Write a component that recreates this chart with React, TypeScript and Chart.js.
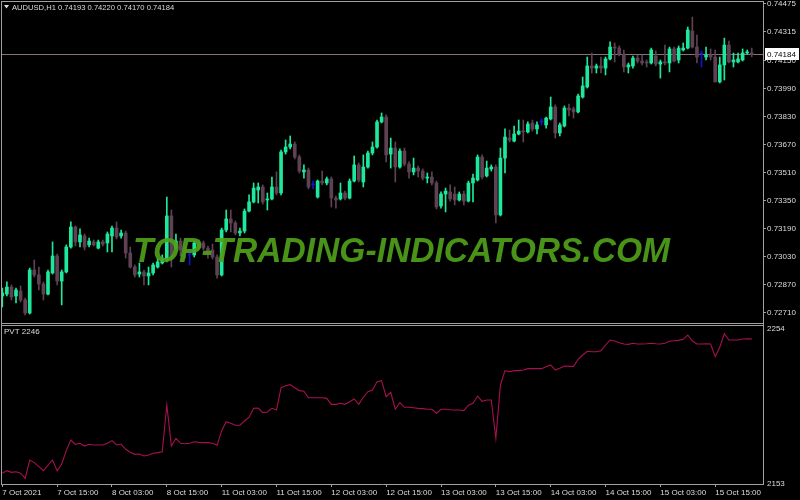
import React, { useEffect, useRef } from "react";
import { Chart, registerables } from "chart.js";
Chart.register(...registerables);

const SYMBOL = "AUDUSD,H1";
const INDICATOR = "PVT";
const WATERMARK = "TOP-TRADING-INDICATORS.COM";
const xTickLabels = ["7 Oct 2021", "7 Oct 15:00", "8 Oct 03:00", "8 Oct 15:00", "11 Oct 03:00", "11 Oct 15:00", "12 Oct 03:00", "12 Oct 15:00", "13 Oct 03:00", "13 Oct 15:00", "14 Oct 03:00", "14 Oct 15:00", "15 Oct 03:00", "15 Oct 15:00"];
const barsPerLabel = 12;
const priceTicks = [0.74475, 0.74315, 0.7415, 0.7399, 0.7383, 0.7367, 0.7351, 0.7335, 0.7319, 0.7303, 0.7287, 0.7271];
const pvtTicks = [2153, 2254];
const bidPrice = 0.74184;

const open = [
  0.72807, 0.72818, 0.72858, 0.72807, 0.72835, 0.72784, 0.72710, 0.72955, 0.72927, 0.72875,
  0.72818, 0.72938, 0.73035, 0.72892, 0.72944, 0.73086, 0.73200, 0.73115, 0.73149, 0.73098,
  0.73115, 0.73080, 0.73115, 0.73109, 0.73149, 0.73194, 0.73149, 0.73166, 0.73052, 0.72972,
  0.72932, 0.72944, 0.72921, 0.72938, 0.72972, 0.72995, 0.73012, 0.73263, 0.73080, 0.73120,
  0.73069, 0.73041, 0.73041, 0.73109, 0.73109, 0.73080, 0.73069, 0.73029, 0.72927, 0.73183,
  0.73246, 0.73223, 0.73166, 0.73177, 0.73291, 0.73343, 0.73411, 0.73428, 0.73354, 0.73360,
  0.73428, 0.73394, 0.73628, 0.73656, 0.73673, 0.73599, 0.73514, 0.73525, 0.73440, 0.73371,
  0.73462, 0.73451, 0.73474, 0.73365, 0.73360, 0.73394, 0.73365, 0.73462, 0.73554, 0.73457,
  0.73542, 0.73622, 0.73656, 0.73799, 0.73827, 0.73616, 0.73650, 0.73542, 0.73633, 0.73559,
  0.73514, 0.73536, 0.73519, 0.73479, 0.73485, 0.73451, 0.73320, 0.73388, 0.73400, 0.73388,
  0.73354, 0.73388, 0.73348, 0.73451, 0.73468, 0.73599, 0.73491, 0.73531, 0.73542, 0.73269,
  0.73593, 0.73707, 0.73690, 0.73730, 0.73747, 0.73742, 0.73793, 0.73759, 0.73799, 0.73782,
  0.73816, 0.73884, 0.73736, 0.73776, 0.73878, 0.73873, 0.73856, 0.73941, 0.73998, 0.74118,
  0.74106, 0.74118, 0.74106, 0.74158, 0.74226, 0.74220, 0.74186, 0.74112, 0.74118, 0.74163,
  0.74146, 0.74141, 0.74135, 0.74175, 0.74129, 0.74141, 0.74135, 0.74215, 0.74152, 0.74209,
  0.74220, 0.74317, 0.74226, 0.74186, 0.74169, 0.74180, 0.74169, 0.74027, 0.74124, 0.74237,
  0.74141, 0.74141, 0.74152, 0.74192, 0.74193,
];
const high = [
  0.72852, 0.72887, 0.72870, 0.72852, 0.72864, 0.72795, 0.72966, 0.73012, 0.72972, 0.72887,
  0.72955, 0.73115, 0.73046, 0.72955, 0.73098, 0.73229, 0.73206, 0.73189, 0.73160, 0.73137,
  0.73126, 0.73126, 0.73126, 0.73172, 0.73206, 0.73229, 0.73183, 0.73177, 0.73086, 0.72984,
  0.72995, 0.72955, 0.72972, 0.72995, 0.73023, 0.73041, 0.73371, 0.73297, 0.73160, 0.73137,
  0.73092, 0.73069, 0.73120, 0.73126, 0.73120, 0.73092, 0.73103, 0.73041, 0.73194, 0.73297,
  0.73297, 0.73234, 0.73194, 0.73303, 0.73383, 0.73451, 0.73451, 0.73440, 0.73394, 0.73485,
  0.73514, 0.73639, 0.73696, 0.73719, 0.73685, 0.73611, 0.73554, 0.73536, 0.73462, 0.73468,
  0.73519, 0.73485, 0.73485, 0.73377, 0.73451, 0.73405, 0.73474, 0.73605, 0.73565, 0.73611,
  0.73633, 0.73685, 0.73810, 0.73850, 0.73839, 0.73707, 0.73685, 0.73645, 0.73650, 0.73571,
  0.73593, 0.73548, 0.73531, 0.73508, 0.73514, 0.73462, 0.73400, 0.73422, 0.73440, 0.73428,
  0.73400, 0.73405, 0.73462, 0.73502, 0.73611, 0.73611, 0.73576, 0.73554, 0.73554, 0.73650,
  0.73759, 0.73753, 0.73776, 0.73810, 0.73810, 0.73799, 0.73810, 0.73799, 0.73816, 0.73827,
  0.73941, 0.73896, 0.73793, 0.73890, 0.73901, 0.73884, 0.73958, 0.74055, 0.74169, 0.74192,
  0.74129, 0.74169, 0.74169, 0.74255, 0.74249, 0.74232, 0.74209, 0.74135, 0.74175, 0.74180,
  0.74180, 0.74152, 0.74220, 0.74203, 0.74152, 0.74237, 0.74226, 0.74226, 0.74232, 0.74249,
  0.74340, 0.74397, 0.74294, 0.74203, 0.74226, 0.74215, 0.74209, 0.74169, 0.74277, 0.74260,
  0.74192, 0.74192, 0.74215, 0.74209, 0.74220,
];
const low = [
  0.72744, 0.72807, 0.72784, 0.72767, 0.72773, 0.72699, 0.72704, 0.72915, 0.72841, 0.72784,
  0.72813, 0.72932, 0.72870, 0.72756, 0.72938, 0.73080, 0.73092, 0.73086, 0.73069, 0.73086,
  0.73092, 0.73075, 0.73092, 0.73058, 0.73058, 0.73132, 0.73137, 0.73023, 0.72966, 0.72915,
  0.72915, 0.72870, 0.72870, 0.72927, 0.72966, 0.72989, 0.73001, 0.72972, 0.73069, 0.73035,
  0.73023, 0.72984, 0.73029, 0.73075, 0.73069, 0.73023, 0.73018, 0.72909, 0.72921, 0.73172,
  0.73172, 0.73155, 0.73149, 0.73166, 0.73286, 0.73337, 0.73337, 0.73331, 0.73297, 0.73354,
  0.73383, 0.73383, 0.73616, 0.73645, 0.73588, 0.73508, 0.73479, 0.73417, 0.73417, 0.73365,
  0.73440, 0.73440, 0.73314, 0.73308, 0.73354, 0.73354, 0.73360, 0.73457, 0.73457, 0.73428,
  0.73536, 0.73611, 0.73650, 0.73793, 0.73571, 0.73536, 0.73457, 0.73536, 0.73548, 0.73479,
  0.73497, 0.73485, 0.73468, 0.73451, 0.73440, 0.73303, 0.73308, 0.73286, 0.73348, 0.73326,
  0.73348, 0.73326, 0.73343, 0.73343, 0.73462, 0.73474, 0.73485, 0.73519, 0.73223, 0.73263,
  0.73508, 0.73685, 0.73685, 0.73725, 0.73685, 0.73736, 0.73747, 0.73730, 0.73782, 0.73764,
  0.73810, 0.73707, 0.73719, 0.73770, 0.73833, 0.73821, 0.73850, 0.73935, 0.73992, 0.74078,
  0.74078, 0.74078, 0.74067, 0.74152, 0.74141, 0.74175, 0.74084, 0.74078, 0.74106, 0.74135,
  0.74124, 0.74112, 0.74129, 0.74118, 0.74049, 0.74124, 0.74084, 0.74141, 0.74135, 0.74203,
  0.74215, 0.74220, 0.74135, 0.74112, 0.74152, 0.74152, 0.74027, 0.74021, 0.74038, 0.74135,
  0.74112, 0.74135, 0.74146, 0.74186, 0.74170,
];
const close = [
  0.72824, 0.72858, 0.72801, 0.72841, 0.72784, 0.72710, 0.72955, 0.72927, 0.72875, 0.72818,
  0.72944, 0.73035, 0.72892, 0.72944, 0.73086, 0.73200, 0.73115, 0.73155, 0.73086, 0.73120,
  0.73098, 0.73115, 0.73103, 0.73160, 0.73194, 0.73143, 0.73166, 0.73052, 0.72972, 0.72927,
  0.72944, 0.72921, 0.72938, 0.72984, 0.73001, 0.73023, 0.73263, 0.73029, 0.73120, 0.73069,
  0.73052, 0.73041, 0.73109, 0.73086, 0.73080, 0.73052, 0.73029, 0.72927, 0.73183, 0.73246,
  0.73223, 0.73166, 0.73177, 0.73291, 0.73343, 0.73422, 0.73428, 0.73343, 0.73360, 0.73428,
  0.73394, 0.73628, 0.73656, 0.73673, 0.73599, 0.73519, 0.73525, 0.73428, 0.73440, 0.73462,
  0.73451, 0.73474, 0.73365, 0.73354, 0.73394, 0.73365, 0.73462, 0.73554, 0.73468, 0.73542,
  0.73622, 0.73656, 0.73799, 0.73827, 0.73611, 0.73650, 0.73542, 0.73633, 0.73559, 0.73514,
  0.73536, 0.73519, 0.73479, 0.73485, 0.73451, 0.73314, 0.73388, 0.73405, 0.73360, 0.73354,
  0.73388, 0.73348, 0.73451, 0.73479, 0.73599, 0.73485, 0.73536, 0.73542, 0.73269, 0.73593,
  0.73713, 0.73696, 0.73730, 0.73747, 0.73742, 0.73787, 0.73759, 0.73782, 0.73799, 0.73821,
  0.73884, 0.73736, 0.73782, 0.73878, 0.73867, 0.73856, 0.73947, 0.74004, 0.74118, 0.74106,
  0.74118, 0.74106, 0.74158, 0.74226, 0.74220, 0.74186, 0.74112, 0.74124, 0.74163, 0.74146,
  0.74135, 0.74135, 0.74209, 0.74129, 0.74141, 0.74135, 0.74215, 0.74146, 0.74220, 0.74220,
  0.74323, 0.74226, 0.74169, 0.74186, 0.74180, 0.74169, 0.74027, 0.74124, 0.74237, 0.74141,
  0.74152, 0.74158, 0.74192, 0.74198, 0.74184,
];
const pvt = [
  2158.6, 2160.3, 2159.2, 2159.6, 2158.6, 2155.3, 2167.2, 2165.5, 2162.9, 2160.3,
  2163.8, 2167.2, 2160.1, 2164.6, 2173.3, 2180.2, 2177.4, 2178.1, 2176.3, 2177.4,
  2177.0, 2177.0, 2177.0, 2178.1, 2179.8, 2177.0, 2177.6, 2174.2, 2172.2, 2170.9,
  2171.1, 2169.8, 2170.5, 2171.6, 2172.0, 2172.6, 2203.0, 2176.3, 2181.3, 2178.1,
  2177.8, 2178.1, 2179.1, 2178.7, 2178.5, 2178.5, 2178.1, 2176.8, 2186.3, 2192.1,
  2191.1, 2189.8, 2189.8, 2192.6, 2195.0, 2200.8, 2201.0, 2198.0, 2198.4, 2200.8,
  2199.7, 2214.2, 2215.5, 2216.2, 2214.2, 2212.3, 2211.9, 2207.7, 2207.7, 2207.7,
  2207.7, 2207.3, 2203.4, 2203.4, 2204.1, 2203.4, 2205.1, 2206.9, 2203.4, 2208.0,
  2211.6, 2212.7, 2218.1, 2218.8, 2208.4, 2211.2, 2200.2, 2204.6, 2201.5, 2201.5,
  2201.2, 2200.8, 2200.6, 2200.2, 2200.2, 2197.6, 2200.2, 2200.2, 2199.9, 2199.7,
  2199.7, 2199.3, 2202.8, 2204.1, 2208.8, 2205.4, 2206.2, 2206.2, 2181.3, 2216.0,
  2225.3, 2224.6, 2225.3, 2225.3, 2225.7, 2226.6, 2226.6, 2226.6, 2226.6, 2227.9,
  2229.0, 2225.7, 2226.8, 2228.3, 2228.1, 2228.1, 2232.7, 2235.5, 2237.9, 2237.6,
  2237.6, 2238.3, 2242.0, 2245.2, 2244.6, 2243.5, 2242.6, 2242.4, 2243.1, 2242.6,
  2242.6, 2242.8, 2243.1, 2242.8, 2242.6, 2243.1, 2244.4, 2244.8, 2245.0, 2245.7,
  2248.5, 2244.6, 2242.6, 2242.6, 2242.8, 2242.6, 2234.4, 2240.5, 2249.3, 2245.2,
  2245.2, 2245.2, 2245.9, 2246.1, 2246.0,
];

const BULL = "#1ee89c";
const BEAR = "#5e4152";
const DOJI = "#1414c8";
const FRAME = "#a0a0a0";
const TEXT = "#dcdcdc";
const FONT = "Liberation Sans";

export default function App() {
  const ref = useRef<HTMLCanvasElement | null>(null);
  useEffect(() => {
    document.body.style.margin = "0";
    document.body.style.background = "#000";
    const canvas = ref.current;
    if (!canvas) return;
    const n = close.length;
    const colors = close.map((c, i) => (c > open[i] ? BULL : c < open[i] ? BEAR : DOJI));
    const last = n - 1;
    const title = `${SYMBOL} ${open[last].toFixed(5)} ${high[last].toFixed(5)} ${low[last].toFixed(5)} ${close[last].toFixed(5)}`;
    const indTitle = `${INDICATOR} ${Math.round(pvt[last])}`;

    const overlay = {
      id: "mt4overlay",
      beforeDraw(chart: any) {
        const ctx = chart.ctx;
        ctx.save();
        ctx.fillStyle = "#000";
        ctx.fillRect(0, 0, chart.width, chart.height);
        ctx.restore();
      },
      beforeDatasetsDraw(chart: any) {
        const ctx = chart.ctx;
        const ys = chart.scales.y;
        const a = chart.chartArea;
        const py = Math.round(ys.getPixelForValue(bidPrice)) + 0.5;
        ctx.save();
        ctx.strokeStyle = "#86727e";
        ctx.lineWidth = 1;
        ctx.beginPath();
        ctx.moveTo(a.left, py);
        ctx.lineTo(a.right, py);
        ctx.stroke();
        ctx.restore();
      },
      afterDatasetsDraw(chart: any) {
        const ctx = chart.ctx;
        ctx.save();
        ctx.font = `italic bold 35px "${FONT}"`;
        const w = ctx.measureText(WATERMARK).width;
        ctx.translate(133, 262);
        ctx.scale(537 / w, 1);
        ctx.fillStyle = "rgba(78,160,26,0.92)";
        ctx.textBaseline = "alphabetic";
        ctx.fillText(WATERMARK, 0, 0);
        ctx.restore();
      },
      afterDraw(chart: any) {
        const ctx = chart.ctx;
        const a = chart.chartArea;
        const ys = chart.scales.y;
        const y2 = chart.scales.y2;
        ctx.save();
        ctx.strokeStyle = FRAME;
        ctx.lineWidth = 1;
        ctx.beginPath();
        ctx.moveTo(a.left + 0.5, a.top);
        ctx.lineTo(a.left + 0.5, a.bottom);
        ctx.moveTo(a.left, a.top + 0.5);
        ctx.lineTo(a.right, a.top + 0.5);
        ctx.moveTo(a.left, ys.bottom + 0.5);
        ctx.lineTo(a.right, ys.bottom + 0.5);
        ctx.moveTo(a.left, y2.top + 2.5);
        ctx.lineTo(a.right, y2.top + 2.5);
        ctx.stroke();
        // bid label
        const py = Math.round(ys.getPixelForValue(bidPrice));
        ctx.fillStyle = "#ffffff";
        ctx.fillRect(a.right + 2, py - 6, 34, 12);
        ctx.fillStyle = "#000";
        ctx.font = `8px "${FONT}"`;
        ctx.textBaseline = "middle";
        ctx.textAlign = "left";
        ctx.fillText(bidPrice.toFixed(5), a.right + 4, py + 0.5);
        // titles
        ctx.fillStyle = TEXT;
        ctx.font = `7.6px "${FONT}"`;
        ctx.fillText(title, 12, 7.5);
        ctx.font = `8px "${FONT}"`;
        ctx.fillText(indTitle, 4, y2.top + 9);
        ctx.beginPath();
        ctx.moveTo(4, 5);
        ctx.lineTo(9, 5);
        ctx.lineTo(6.5, 8.5);
        ctx.closePath();
        ctx.fill();
        ctx.restore();
      },
    };

    const fitY = (s: any) => {
      s.width = 37;
      s.paddingTop = 0;
      s.paddingBottom = 0;
    };

    const chart = new Chart(canvas, {
      type: "bar",
      data: {
        datasets: [
          {
            type: "bar",
            label: "body",
            data: open.map((o, i) => ({ x: i, y: [o, close[i]] })) as any,
            backgroundColor: colors,
            borderWidth: 0,
            barThickness: 3,
            minBarLength: 1,
            grouped: false,
            yAxisID: "y",
            order: 0,
          } as any,
          {
            type: "bar",
            label: "wick",
            data: low.map((l, i) => ({ x: i, y: [l, high[i]] })) as any,
            backgroundColor: colors,
            borderWidth: 0,
            barThickness: 1,
            grouped: false,
            yAxisID: "y",
            order: 1,
          } as any,
          {
            type: "line",
            label: INDICATOR,
            data: pvt.map((v, i) => ({ x: i, y: v })) as any,
            borderColor: "#a8104f",
            borderWidth: 1.1,
            pointRadius: 0,
            tension: 0,
            yAxisID: "y2",
            order: 2,
          } as any,
        ],
      },
      options: {
        responsive: false,
        maintainAspectRatio: false,
        animation: false,
        events: [],
        layout: { padding: { top: 1, left: 1, right: 0, bottom: 0 }, autoPadding: false },
        plugins: { legend: { display: false }, tooltip: { enabled: false } },
        scales: {
          x: {
            type: "linear",
            position: "bottom",
            offset: false,
            min: -0.284,
            max: 166.46,
            afterFit: (s: any) => {
              s.height = 16;
              s.paddingLeft = 0;
              s.paddingRight = 0;
            },
            afterBuildTicks: (s: any) => {
              s.ticks = xTickLabels.map((_, k) => ({ value: k * barsPerLabel }));
            },
            grid: { display: true, offset: false, drawOnChartArea: false, drawTicks: true, tickLength: 3, color: FRAME },
            border: { display: true, color: FRAME },
            ticks: {
              autoSkip: false,
              maxRotation: 0,
              minRotation: 0,
              align: "start",
              padding: 1,
              color: TEXT,
              font: { family: FONT, size: 8 },
              callback: (v: any) => xTickLabels[Math.round(Number(v) / barsPerLabel)] ?? "",
            },
          },
          y: {
            type: "linear",
            position: "right",
            stack: "panes",
            stackWeight: 322,
            min: 0.726529,
            max: 0.744883,
            afterFit: fitY,
            afterBuildTicks: (s: any) => {
              s.ticks = priceTicks.map((v) => ({ value: v }));
            },
            grid: { display: true, drawOnChartArea: false, drawTicks: true, tickLength: 3, color: FRAME },
            border: { display: true, color: FRAME },
            ticks: {
              color: TEXT,
              padding: 1,
              font: { family: FONT, size: 8 },
              callback: (v: any) => Number(v).toFixed(5),
            },
          },
          y2: {
            type: "linear",
            position: "right",
            stack: "panes",
            stackWeight: 161,
            min: 2151.6,
            max: 2256.3,
            afterFit: fitY,
            afterBuildTicks: (s: any) => {
              s.ticks = pvtTicks.map((v) => ({ value: v }));
            },
            grid: { display: true, drawOnChartArea: false, drawTicks: false, color: FRAME },
            border: { display: true, color: FRAME },
            ticks: {
              color: TEXT,
              padding: 4,
              labelOffset: 2,
              font: { family: FONT, size: 8 },
              callback: (v: any) => String(Math.round(Number(v))),
            },
          },
        },
      } as any,
      plugins: [overlay],
    });
    return () => chart.destroy();
  }, []);
  return (
    <div style={{ width: 800, height: 500, background: "#000" }}>
      <canvas ref={ref} width={800} height={500} style={{ display: "block" }} />
    </div>
  );
}
